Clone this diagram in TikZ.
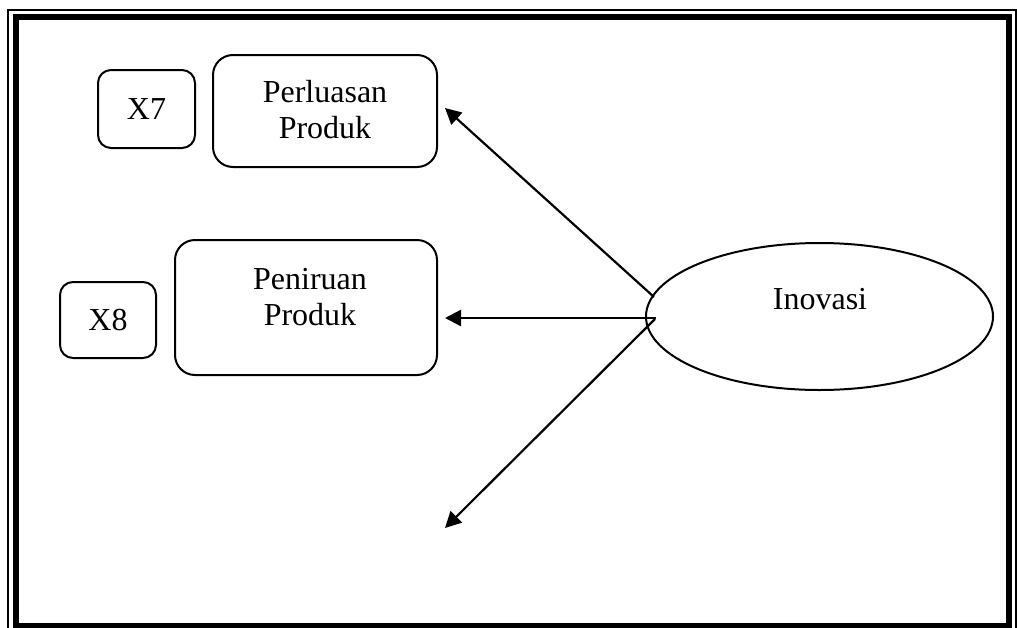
\documentclass[tikz,border=0pt]{standalone}
\usepackage{fontspec}
\setmainfont{Liberation Serif}
\usetikzlibrary{arrows.meta,shapes.geometric,calc}
\begin{document}
\begin{tikzpicture}[x=0.5pt,y=-0.5pt,
  box/.style={draw,line width=1pt,rounded corners=10pt,inner sep=0pt},
  smallbox/.style={draw,line width=1pt,rounded corners=6.5pt,inner sep=0pt},
  lbl/.style={align=center,inner sep=0pt,font=\fontsize{16pt}{18pt}\selectfont},
  conn/.style={line width=1.1pt,-{Triangle[length=8pt,width=8pt]}}]
\useasboundingbox (0,0) rectangle (1017,627);
% frame: thin outer line and heavy inner line
\draw[line width=0.9pt] (8,10) rectangle (1016,640);
\draw[line width=3.2pt] (16,17) rectangle (1009,626);

% indicator boxes
\node[smallbox,minimum width=48.5pt,minimum height=39pt] (x7) at (146.5,109) {};
\node[lbl] (x7t) at (146.5,109) {X7};
\node[box,minimum width=112pt,minimum height=56pt] (b1) at (325,111) {};
\node[lbl] (b1t) at (325,110) {Perluasan\\Produk};

\node[smallbox,minimum width=48pt,minimum height=38pt] (x8) at (108,320) {};
\node[lbl] (x8t) at (108,320) {X8};
\node[box,minimum width=131pt,minimum height=67.5pt] (b2) at (306,307.5) {};
\node[lbl] (b2t) at (310,297) {Peniruan\\Produk};

% latent variable
\node[draw,ellipse,line width=1pt,minimum width=173.5pt,minimum height=73.5pt,inner sep=0pt] (ino) at (819.5,316.5) {};
\node[lbl] (inot) at (820,299) {Inovasi};

% connector ends
\coordinate (s1) at (654,297);
\coordinate (s2) at (656,318);
\coordinate (s3) at (655,319);
\coordinate (t1) at (445,108);
\coordinate (t2) at (445,318);
\coordinate (t3) at (445,528);
\draw[conn] (s1) -- (t1);
\draw[conn] (s2) -- (t2);
\draw[conn] (s3) -- (t3);
\end{tikzpicture}
\end{document}
